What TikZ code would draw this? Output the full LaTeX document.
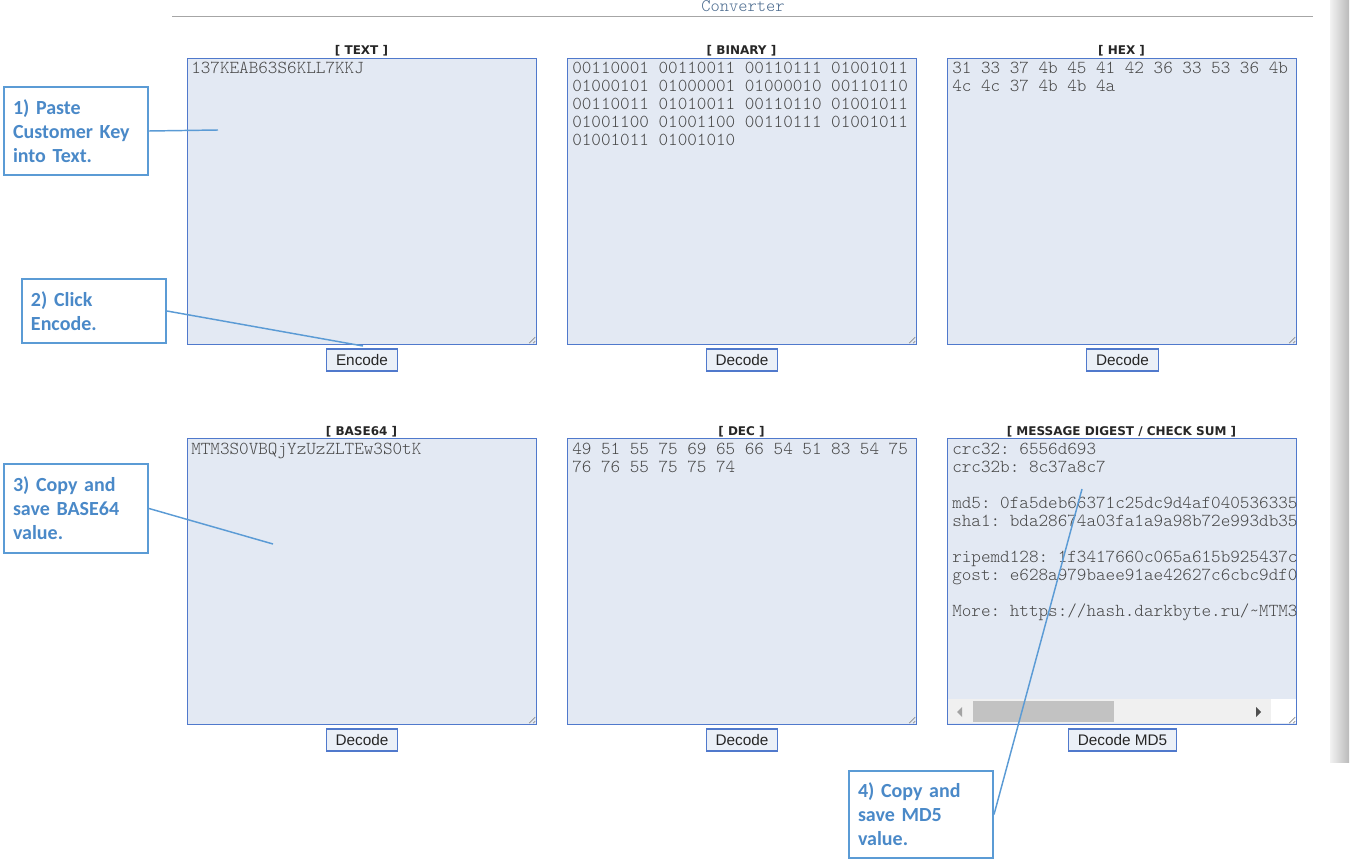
\documentclass[tikz,border=0pt]{standalone}
\usepackage{fontspec}
\setmainfont{Liberation Sans}
\setmonofont{lmmonolt10-regular.otf}
\newfontfamily\notefont{Carlito}
\newfontfamily\headfont{DejaVu Sans}
\definecolor{panelfill}{HTML}{E3E9F3}
\definecolor{panelline}{HTML}{5079CC}
\definecolor{notecol}{HTML}{5B9BD5}
\definecolor{notetext}{HTML}{4A89C8}
\definecolor{titlecol}{HTML}{4A6A8E}
\tikzset{
  panel/.style={draw=panelline, fill=panelfill, line width=0.9pt, anchor=north west,
    minimum width=261.75pt, minimum height=214.5pt, inner sep=0pt},
  head/.style={anchor=base, inner sep=0pt, text=black!85,
    font=\headfont\bfseries\fontsize{9}{10}\selectfont},
  mono/.style={anchor=base west, inner sep=0pt, text=black!72,
    font=\ttfamily\fontsize{13.7}{15}\selectfont},
  button/.style={draw=panelline, fill=panelfill!70!white, line width=0.9pt,
    minimum height=16.5pt, inner xsep=7pt, inner ysep=0pt, text=black!85,
    font=\fontsize{11.5}{13}\selectfont},
  note/.style={draw=notecol, line width=1.5pt, fill=white, text=notetext, anchor=north west,
    align=left, text width=94.5pt, inner xsep=6.75pt,
    font=\notefont\bfseries\fontsize{15}{18}\selectfont},
  pointer/.style={draw=notecol, line width=1.1pt},
  grip/.style={draw=black!45, line width=0.5pt}
}
\begin{document}
\begin{tikzpicture}[x=0.75pt, y=-0.75pt]
    \useasboundingbox (0,0) rectangle (1352,859);

    % Title and rule
    \node[anchor=base, inner sep=0pt, text=titlecol, font=\ttfamily\fontsize{13.2}{15}\selectfont] (title) at (743,12) {Converter};
    \draw[black!35, line width=0.75pt] (172,17) -- (1313,17);

    % Scroll shadow at the right
    \shade[left color=black!5, right color=black!27] (1330,0) rectangle (1349,762);

    % Panels, top row
    \node[panel] (Text) at (187,58) {};
    \node[panel] (Binary) at (567,58) {};
    \node[panel] (Hex) at (947,58) {};
    \node[head] (hText) at (361.5,55) {[ TEXT ]};
    \node[head] (hBinary) at (741.5,55) {[ BINARY ]};
    \node[head] (hHex) at (1121.5,55) {[ HEX ]};

    % Panels, bottom row
    \node[panel] (Base) at (187,438) {};
    \node[panel] (Dec) at (567,438) {};
    \node[panel] (Digest) at (947,438) {};
    \node[head] (hBase) at (361.5,435) {[ BASE64 ]};
    \node[head] (hDec) at (741.5,435) {[ DEC ]};
    \node[head] (hDigest) at (1121.5,435) {[ MESSAGE DIGEST / CHECK SUM ]};

    % Panel contents
    \node[mono] (txt1) at (191,74) {137KEAB63S6KLL7KKJ};
    \foreach \l [count=\i] in {00110001 00110011 00110111 01001011,
        01000101 01000001 01000010 00110110, 00110011 01010011 00110110 01001011,
        01001100 01001100 00110111 01001011, 01001011 01001010}
      \node[mono] (bin\i) at (572,56+18*\i) {\l};
    \node[mono] (hex1) at (952,74) {31 33 37 4b 45 41 42 36 33 53 36 4b};
    \node[mono] (hex2) at (952,92) {4c 4c 37 4b 4b 4a};
    \node[mono] (b64) at (191,454) {MTM3S0VBQjYzUzZLTEw3S0tK};
    \node[mono] (dec1) at (572,454) {49 51 55 75 69 65 66 54 51 83 54 75};
    \node[mono] (dec2) at (572,472) {76 76 55 75 75 74};
    \begin{scope}
      \clip (948,439) rectangle (1296,698);
      \foreach \l [count=\i] in {crc32: 6556d693, crc32b: 8c37a8c7, {},
          md5: 0fa5deb66371c25dc9d4af040536335, sha1: bda28674a03fa1a9a98b72e993db35, {},
          ripemd128: 1f3417660c065a615b925437c, gost: e628a979baee91ae42627c6cbc9df0, {},
          More: https://hash.darkbyte.ru/\textasciitilde MTM3}
        \node[mono] (dig\i) at (952,436+18*\i) {\l};
    \end{scope}

    % Horizontal scrollbar of the digest panel
    \fill[black!6] (948,699) rectangle (1271,723);
    \fill[white] (1271,699) rectangle (1296,723);
    \fill[black!24] (973,701) rectangle (1114,722);
    \fill[black!36] (957,712) -- (962,707) -- (962,717) -- cycle;
    \fill[black!69] (1261,712) -- (1256,707) -- (1256,717) -- cycle;

    % Resize grips
    \foreach \p in {Text,Binary,Hex,Base,Dec,Digest}
      \draw[grip] (\p.south east) ++(-2,-8) -- ++(-6,6) (\p.south east) ++(-2,-4) -- ++(-2,2);

    % Buttons
    \node[button] (Encode) at (362,360) {Encode};
    \node[button] (DecBin) at (742,360) {Decode};
    \node[button] (DecHex) at (1122.5,360) {Decode};
    \node[button] (DecBase) at (362,740) {Decode};
    \node[button] (DecDec) at (742,740) {Decode};
    \node[button] (DecMD5) at (1122.5,740) {Decode MD5};

    % Callouts
    \node[note, minimum height=66pt] (Step1) at (3,86) {1) Paste\\Customer Key\\into Text.};
    \node[note, minimum height=48pt] (Step2) at (21,278) {2) Click\\Encode.};
    \node[note, minimum height=66.75pt] (Step3) at (3,463) {3) Copy and\\save BASE64\\value.};
    \node[note, minimum height=65.25pt] (Step4) at (848,770) {4) Copy and\\save MD5\\value.};

    % Pointers
    \coordinate (E1) at (218,130);
    \coordinate (E2) at (363,346);
    \coordinate (E3) at (273,544);
    \coordinate (E4) at (1082,489);
    \draw[pointer] (Step1.east) -- (E1);
    \draw[pointer] (Step2.east) -- (E2);
    \draw[pointer] (Step3.east) -- (E3);
    \draw[pointer] (Step4.east) -- (E4);
\end{tikzpicture}
\end{document}
